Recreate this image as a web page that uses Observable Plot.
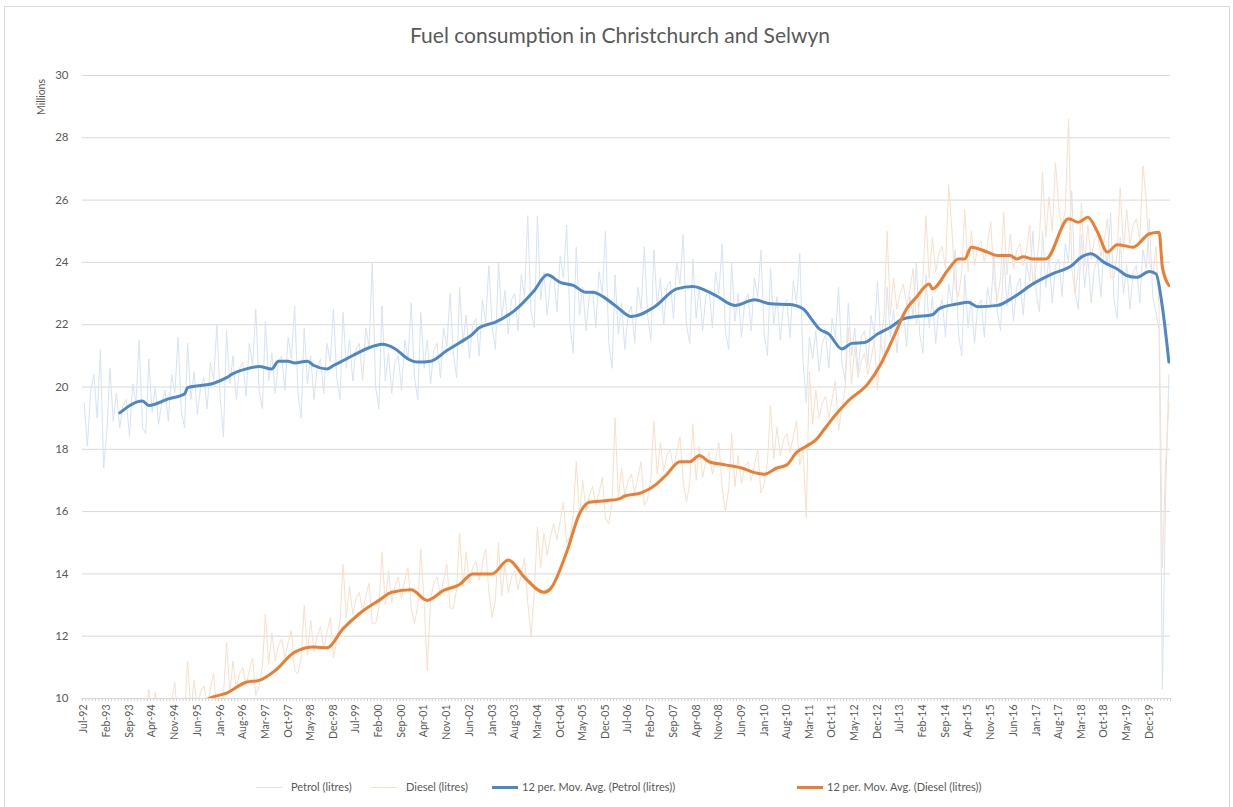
<!DOCTYPE html>
<html>
<head>
<meta charset="utf-8">
<script src="https://cdn.jsdelivr.net/npm/d3@7"></script>
<script src="https://cdn.jsdelivr.net/npm/@observablehq/plot@0.6"></script>
<style>
  body { margin: 0; background: #fff; font-family: Lato, "Open Sans", sans-serif; }
  #wrap { position: relative; width: 1233px; height: 807px; overflow: hidden; background: #fff; }
  #frame { position: absolute; left: 4px; top: 6px; width: 1226px; height: 900px; border: 1px solid #d9d9d9; box-sizing: border-box; }
  #title { position: absolute; left: 0; top: 22px; width: 1240px; text-align: center; font-size: 21px; color: #595959; }
  #ylabel { position: absolute; left: 16px; top: 91px; width: 50px; text-align: center; font-size: 10.5px; color: #595959; transform: rotate(-90deg); }
  #chart { position: absolute; left: 0; top: 55px; }
  .lg { position: absolute; top: 779px; font-size: 11px; color: #595959; line-height: 16px; white-space: nowrap; }
  .sw { position: absolute; width: 26px; }
</style>
</head>
<body>
<div id="wrap">
  <div id="frame"></div>
  <div id="title">Fuel consumption in Christchurch and Selwyn</div>
  <div id="ylabel">Millions</div>
  <div id="chart"></div>
  <div id="legend"></div>
</div>
<script>
// ---- Data (millions of litres), monthly from Jul-92 to Jun-20 ----
const firstMonth = "1992-07";

const petrolLitres = [
  19.5, 18.1, 19.9, 20.4, 19.0, 21.2,                               // 1992 (Jul-Dec)
  17.4, 18.6, 20.6, 18.9, 19.8, 18.7, 19.4, 19.6, 18.4, 20.1, 19.5, 21.5, // 1993
  18.7, 18.5, 20.9, 19.2, 20.0, 18.8, 19.5, 19.9, 18.9, 20.4, 19.8, 21.6, // 1994
  19.2, 18.7, 21.4, 19.6, 20.5, 19.1, 20.0, 20.3, 19.3, 20.8, 20.2, 22.0, // 1995
  19.7, 18.4, 21.8, 20.1, 21.0, 19.6, 20.6, 20.8, 19.7, 21.4, 20.7, 22.5, // 1996
  19.9, 19.3, 22.1, 20.2, 21.1, 19.8, 20.8, 21.0, 19.9, 21.6, 20.9, 22.6, // 1997
  19.8, 19.0, 21.9, 20.1, 21.0, 19.6, 20.6, 20.9, 19.8, 21.4, 20.8, 22.5, // 1998
  20.3, 19.6, 22.4, 20.6, 21.5, 20.2, 21.2, 21.4, 20.2, 21.9, 21.3, 24.0, // 1999
  20.0, 19.3, 22.6, 20.2, 21.1, 19.8, 20.8, 21.0, 19.9, 21.5, 20.9, 22.7, // 2000
  20.3, 19.6, 22.4, 20.6, 21.5, 20.1, 21.2, 21.4, 20.3, 21.9, 21.3, 23.0, // 2001
  21.1, 20.3, 23.2, 21.4, 22.3, 20.9, 22.0, 22.2, 21.0, 22.8, 22.1, 23.9, // 2002
  21.9, 21.2, 24.0, 22.2, 23.1, 21.7, 22.8, 23.0, 21.8, 23.6, 22.9, 25.5, // 2003
  22.4, 21.9, 25.5, 22.8, 23.7, 22.3, 23.4, 23.6, 22.4, 24.2, 23.5, 25.2, // 2004
  22.0, 21.1, 24.5, 22.3, 23.2, 21.8, 22.9, 23.1, 21.9, 23.7, 23.0, 25.0, // 2005
  21.4, 20.6, 23.6, 21.7, 22.7, 21.2, 22.3, 22.6, 21.4, 23.2, 22.5, 24.5, // 2006
  22.3, 21.5, 24.4, 22.6, 23.5, 22.0, 23.2, 23.4, 22.2, 24.0, 23.3, 24.9, // 2007
  22.0, 21.4, 24.1, 22.2, 23.2, 21.8, 22.9, 23.1, 21.9, 23.7, 23.0, 24.6, // 2008
  21.8, 21.2, 24.0, 22.1, 23.0, 21.6, 22.7, 23.0, 21.8, 23.5, 22.9, 24.4, // 2009
  21.7, 21.0, 23.8, 22.0, 22.9, 21.5, 22.6, 22.8, 21.6, 23.4, 22.7, 24.3, // 2010
  20.8, 19.5, 21.6, 20.9, 21.8, 20.5, 21.4, 21.7, 20.6, 22.2, 21.6, 23.2, // 2011
  20.8, 20.2, 22.7, 21.0, 21.9, 20.5, 21.6, 21.8, 20.7, 22.3, 21.7, 23.4, // 2012
  21.4, 20.8, 23.2, 21.6, 22.5, 21.1, 22.2, 22.4, 21.3, 22.9, 22.3, 24.0, // 2013
  21.7, 21.1, 23.6, 21.9, 22.9, 21.4, 22.5, 22.8, 21.6, 23.3, 22.7, 24.4, // 2014
  21.7, 21.0, 23.6, 21.9, 22.8, 21.4, 22.6, 22.8, 21.6, 23.2, 22.6, 24.3, // 2015
  22.4, 21.8, 24.3, 22.6, 23.6, 22.1, 23.2, 23.5, 22.3, 24.0, 23.4, 25.0, // 2016
  23.0, 22.4, 25.0, 23.2, 24.2, 22.7, 23.9, 24.1, 22.9, 24.6, 24.0, 26.3, // 2017
  23.0, 22.5, 24.9, 23.2, 24.2, 22.7, 23.8, 24.1, 22.9, 24.6, 23.9, 25.6, // 2018
  22.8, 22.2, 24.8, 23.0, 23.9, 22.5, 23.7, 23.9, 22.7, 24.4, 23.8, 25.4, // 2019
  22.9, 22.4, 21.8, 10.3, 16.5, 20.4                                 // 2020 (Jan-Jun)
];

const dieselLitres = [
  9.1, 9.3, 8.9, 9.2, 9.5, 8.6,                                     // 1992 (Jul-Dec)
  8.3, 8.8, 10.0, 9.0, 9.8, 9.0, 9.4, 9.7, 9.1, 9.5, 9.9, 8.8,       // 1993
  8.6, 9.1, 10.3, 9.2, 10.2, 9.3, 9.8, 10.0, 9.4, 9.9, 10.5, 9.1,    // 1994
  9.0, 9.5, 11.2, 9.6, 10.6, 9.7, 10.2, 10.4, 9.8, 10.3, 10.8, 9.5,  // 1995
  9.6, 10.1, 11.8, 10.2, 11.2, 10.3, 10.8, 11.0, 10.4, 10.9, 11.3, 10.1, // 1996
  10.4, 11.0, 12.7, 11.1, 12.1, 11.2, 11.7, 11.9, 11.3, 11.8, 12.2, 10.9, // 1997
  10.8, 11.3, 13.0, 11.4, 12.5, 11.5, 12.0, 12.3, 11.6, 12.1, 12.6, 11.3, // 1998
  11.9, 12.5, 14.3, 12.6, 13.6, 12.7, 13.2, 13.4, 12.8, 13.3, 13.7, 12.4, // 1999
  12.4, 12.9, 14.7, 13.0, 14.1, 13.1, 13.6, 13.9, 13.2, 13.8, 14.2, 12.9, // 2000
  12.4, 13.0, 14.8, 13.1, 10.9, 13.2, 13.7, 13.9, 13.3, 13.8, 14.3, 12.9, // 2001
  12.9, 13.5, 15.3, 13.6, 14.7, 13.7, 14.2, 14.4, 13.8, 14.3, 14.8, 13.4, // 2002
  12.6, 13.2, 15.0, 13.3, 14.3, 13.4, 13.9, 14.1, 13.5, 14.0, 14.5, 13.1, // 2003
  12.0, 13.4, 15.5, 14.2, 15.3, 14.6, 15.2, 15.6, 15.1, 15.7, 16.3, 15.0, // 2004
  15.2, 15.9, 17.6, 15.9, 17.0, 16.0, 16.5, 16.8, 16.2, 16.6, 17.1, 15.8, // 2005
  15.6, 16.3, 19.0, 16.4, 17.4, 16.5, 17.0, 17.2, 16.6, 17.1, 17.6, 16.2, // 2006
  16.4, 17.1, 18.9, 17.2, 18.2, 17.3, 17.8, 18.0, 17.4, 17.9, 18.4, 17.0, // 2007
  16.3, 16.9, 18.8, 17.0, 18.1, 17.1, 17.6, 17.9, 17.2, 17.7, 18.2, 16.8, // 2008
  16.0, 16.7, 18.5, 16.8, 17.8, 16.9, 17.4, 17.6, 17.0, 17.5, 18.0, 16.6, // 2009
  16.9, 17.6, 19.4, 17.7, 18.7, 17.8, 18.3, 18.5, 17.9, 18.4, 18.9, 17.5, // 2010
  18.0, 15.8, 20.5, 18.8, 19.9, 19.0, 19.5, 19.7, 19.0, 19.6, 20.2, 18.6, // 2011
  19.3, 20.0, 21.9, 20.1, 21.3, 20.3, 20.8, 21.1, 20.4, 20.9, 21.5, 19.9, // 2012
  21.5, 22.3, 25.0, 22.3, 23.5, 22.5, 23.0, 23.3, 22.6, 23.1, 23.8, 22.0, // 2013
  22.7, 23.5, 25.5, 23.5, 24.8, 23.7, 24.3, 24.5, 23.8, 26.5, 25.0, 23.2, // 2014
  22.9, 23.7, 25.7, 23.7, 25.0, 23.9, 24.5, 24.7, 24.0, 24.6, 25.3, 23.4, // 2015
  22.8, 23.5, 25.6, 23.6, 24.9, 23.8, 24.4, 24.6, 23.9, 24.4, 25.2, 23.3, // 2016
  23.9, 24.8, 26.9, 24.8, 26.1, 25.0, 27.2, 25.8, 25.1, 25.7, 28.6, 23.8, // 2017
  23.0, 23.8, 25.9, 23.9, 25.2, 24.1, 24.7, 24.9, 24.2, 24.7, 25.4, 23.5, // 2018
  23.5, 24.3, 26.4, 24.4, 25.7, 24.6, 25.2, 25.4, 24.7, 27.1, 26.0, 24.0, // 2019
  23.6, 24.5, 22.5, 14.2, 17.5, 19.5                                 // 2020 (Jan-Jun)
];

// 12-period moving averages
const petrolMADates = ["1993-06","1994-01","1994-03","1994-09","1995-02","1995-03","1995-11","1996-03","1996-05","1996-09",
  "1997-01","1997-05","1997-07","1997-10","1997-12","1998-04","1998-06","1998-10","1998-12","1999-04","1999-08","2000-01",
  "2000-03","2000-07","2000-11","2001-02","2001-06","2001-11","2002-03","2002-07","2002-09","2003-02","2003-08","2004-02",
  "2004-06","2004-10","2005-02","2005-06","2005-08","2006-03","2006-08","2007-03","2007-10","2008-03","2008-10","2009-04",
  "2009-10","2010-03","2010-09","2011-01","2011-04","2011-06","2011-09","2012-01","2012-04","2012-08","2012-12","2013-04",
  "2013-08","2013-12","2014-05","2014-07","2015-01","2015-04","2015-07","2016-01","2016-06","2016-12","2017-06","2017-12",
  "2018-03","2018-06","2018-10","2019-02","2019-05","2019-08","2019-12","2020-02","2020-04","2020-06"];
const petrolMA = [19.17,19.55,19.41,19.62,19.78,19.98,20.12,20.3,20.43,20.58,
  20.66,20.58,20.83,20.83,20.77,20.83,20.69,20.58,20.69,20.9,21.12,21.33,
  21.37,21.23,20.9,20.8,20.83,21.17,21.42,21.7,21.9,22.08,22.46,23.1,
  23.6,23.36,23.26,23.04,23.04,22.62,22.26,22.56,23.15,23.23,22.94,22.62,
  22.8,22.67,22.65,22.51,22.13,21.87,21.7,21.22,21.4,21.43,21.7,21.92,
  22.19,22.26,22.32,22.51,22.67,22.72,22.58,22.62,22.88,23.31,23.63,23.9,
  24.17,24.28,24.0,23.79,23.58,23.52,23.71,23.63,22.56,20.8];

const dieselMADates = ["1995-07","1995-10","1996-03","1996-09","1997-01","1997-06","1997-12","1998-06","1998-10","1999-03",
  "1999-08","2000-02","2000-06","2000-12","2001-05","2001-10","2002-03","2002-07","2003-01","2003-06","2003-11","2004-05",
  "2004-07","2004-12","2005-04","2005-07","2005-12","2006-04","2006-06","2006-11","2007-04","2007-07","2007-11","2008-02",
  "2008-05","2008-08","2009-01","2009-06","2009-10","2010-01","2010-05","2010-08","2010-11","2011-02","2011-05","2011-08",
  "2011-11","2012-03","2012-09","2013-01","2013-05","2013-09","2013-12","2014-04","2014-05","2014-10","2015-01","2015-03",
  "2015-05","2015-10","2016-01","2016-05","2016-07","2016-09","2016-12","2017-04","2017-11","2018-02","2018-05","2018-08",
  "2018-11","2019-02","2019-07","2019-12","2020-03","2020-04","2020-06"];
const dieselMA = [9.85,10.02,10.17,10.52,10.58,10.9,11.49,11.65,11.63,12.24,
  12.72,13.15,13.41,13.49,13.15,13.47,13.66,14.0,14.0,14.45,13.89,13.41,
  13.52,14.7,15.93,16.3,16.35,16.4,16.5,16.6,16.9,17.2,17.6,17.6,
  17.8,17.6,17.5,17.4,17.25,17.2,17.4,17.5,17.9,18.1,18.3,18.7,
  19.1,19.56,20.1,20.74,21.6,22.51,22.88,23.31,23.15,23.79,24.11,24.11,
  24.49,24.33,24.22,24.22,24.11,24.18,24.11,24.11,25.4,25.29,25.45,24.97,
  24.33,24.57,24.49,24.92,24.97,23.84,23.26];

const yTicks = [10, 12, 14, 16, 18, 20, 22, 24, 26, 28, 30];
const seriesNames = ["Petrol (litres)", "Diesel (litres)", "12 per. Mov. Avg. (Petrol (litres))", "12 per. Mov. Avg. (Diesel (litres))"];
const seriesColors = ["#d6e4f3", "#f9dfcc", "#4f87c5", "#ed7d31"];

// ---- build tables ----
const [fy, fm] = firstMonth.split("-").map(Number);
const monthMid = k => new Date(Date.UTC(fy, fm - 1 + k, 16));
const monthStart = k => new Date(Date.UTC(fy, fm - 1 + k, 1));
const parseYM = s => { const [y, m] = s.split("-").map(Number); return new Date(Date.UTC(y, m - 1, 16)); };

const petrolRows = petrolLitres.map((v, k) => ({date: monthMid(k), value: v}));
const dieselRows = dieselLitres.map((v, k) => ({date: monthMid(k), value: v}));
const petrolMARows = petrolMADates.map((d, k) => ({date: parseYM(d), value: petrolMA[k]}));
const dieselMARows = dieselMADates.map((d, k) => ({date: parseYM(d), value: dieselMA[k]}));

const nMonths = petrolLitres.length;
const boundaries = d3.range(nMonths + 1).map(monthStart);
const labelDates = d3.range(0, nMonths, 7).map(monthMid);

const chart = Plot.plot({
  width: 1233,
  height: 708,
  marginLeft: 82,
  marginRight: 63,
  marginTop: 20,
  marginBottom: 65,
  x: {type: "utc", domain: [monthStart(0), monthStart(nMonths)]},
  y: {domain: [10, 30]},
  style: {fontFamily: "Lato, 'Open Sans', sans-serif", fontSize: "10.5px", color: "#595959", background: "transparent"},
  marks: [
    Plot.gridY(yTicks, {stroke: "#d9d9d9", strokeOpacity: 1, strokeWidth: 1}),
    Plot.axisY(yTicks, {tickSize: 0, tickPadding: 14, fontSize: 11.5, label: null}),
    Plot.axisX(boundaries, {tickSize: 3, stroke: "#d0d0d0", tickFormat: () => "", label: null}),
    Plot.axisX(labelDates, {tickSize: 0, tickPadding: 6, tickRotate: -90, tickFormat: d3.utcFormat("%b-%y"), label: null}),
    Plot.line(petrolRows, {x: "date", y: "value", stroke: seriesColors[0], strokeWidth: 1, clip: true}),
    Plot.line(dieselRows, {x: "date", y: "value", stroke: seriesColors[1], strokeWidth: 1, clip: true}),
    Plot.line(petrolMARows, {x: "date", y: "value", stroke: seriesColors[2], strokeWidth: 3, clip: true, curve: "monotone-x"}),
    Plot.line(dieselMARows, {x: "date", y: "value", stroke: seriesColors[3], strokeWidth: 3, clip: true, curve: "monotone-x"})
  ]
});
document.getElementById("chart").appendChild(chart);

// ---- legend ----
const legend = document.getElementById("legend");
const legendPos = [[256, 291, 1], [371, 406, 1], [492, 522, 3], [797, 827, 3]];
seriesNames.forEach((name, i) => {
  const [sx, tx, w] = legendPos[i];
  const sw = document.createElement("div");
  sw.className = "sw";
  sw.style.left = sx + "px";
  sw.style.top = (787 - w / 2) + "px";
  sw.style.height = w + "px";
  sw.style.background = seriesColors[i];
  legend.appendChild(sw);
  const t = document.createElement("div");
  t.className = "lg";
  t.style.left = tx + "px";
  t.textContent = name;
  legend.appendChild(t);
});
</script>
</body>
</html>
